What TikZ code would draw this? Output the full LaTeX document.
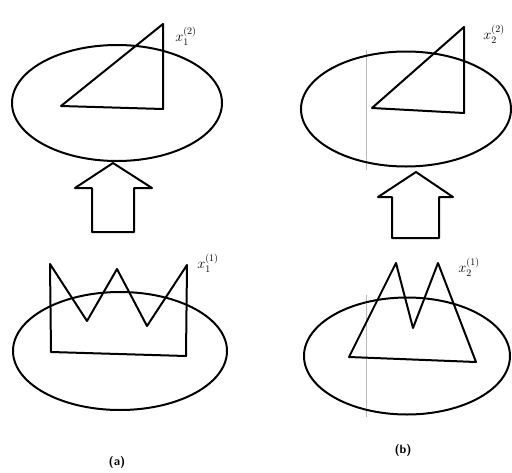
\documentclass[tikz,border=0pt]{standalone}
\usetikzlibrary{shapes.geometric}

\begin{document}
\begin{tikzpicture}[x=1pt, y=-1pt,
  curve/.style={line width=2pt, line join=round},
  region/.style={ellipse, draw, line width=2pt, inner sep=0pt},
  lbl/.style={font=\Large, inner sep=0pt},
  caption/.style={font=\sffamily\bfseries\large, inner sep=0pt},
  fold/.style={draw=gray!55, line width=1pt}
]
\useasboundingbox (0,0) rectangle (512,472);

% (a)
\node[region, minimum width=210pt, minimum height=116pt] (topA) at (117,103) {};
\draw[curve] (61,106) -- (163,24) -- (163,109) -- cycle;
\node[lbl] (xa2) at (186,36) {$x_1^{(2)}$};
\draw[curve] (92,232) -- (92,188) -- (75,188) -- (113,163) -- (152,188) -- (134,188) -- (134,232) -- cycle;
\node[region, minimum width=214pt, minimum height=118pt] (botA) at (120,351) {};
\draw[curve] (50,264) -- (87,321) -- (117,269) -- (147,326) -- (187,265) -- (186,356) -- (51,352) -- cycle;
\node[lbl] (xa1) at (208,263) {$x_1^{(1)}$};
\node[caption] (capA) at (117,462) {(a)};

% (b)
\draw[fold] (366,50) -- (366,170);
\draw[fold] (366,295) -- (366,417);
\node[region, minimum width=210pt, minimum height=115pt] (topB) at (406,109) {};
\draw[curve] (372,108) -- (464,27) -- (464,113) -- cycle;
\node[lbl] (xb2) at (494,34) {$x_2^{(2)}$};
\draw[curve] (392,238) -- (392,197) -- (378,197) -- (416,172) -- (453,197) -- (439,197) -- (439,238) -- cycle;
\node[region, minimum width=206pt, minimum height=117pt] (botB) at (407,356) {};
\draw[curve] (349,357) -- (396,263) -- (413,328) -- (438,263) -- (476,362) -- cycle;
\node[lbl] (xb1) at (469,267) {$x_2^{(1)}$};
\node[caption] (capB) at (403,450) {(b)};
\end{tikzpicture}
\end{document}
